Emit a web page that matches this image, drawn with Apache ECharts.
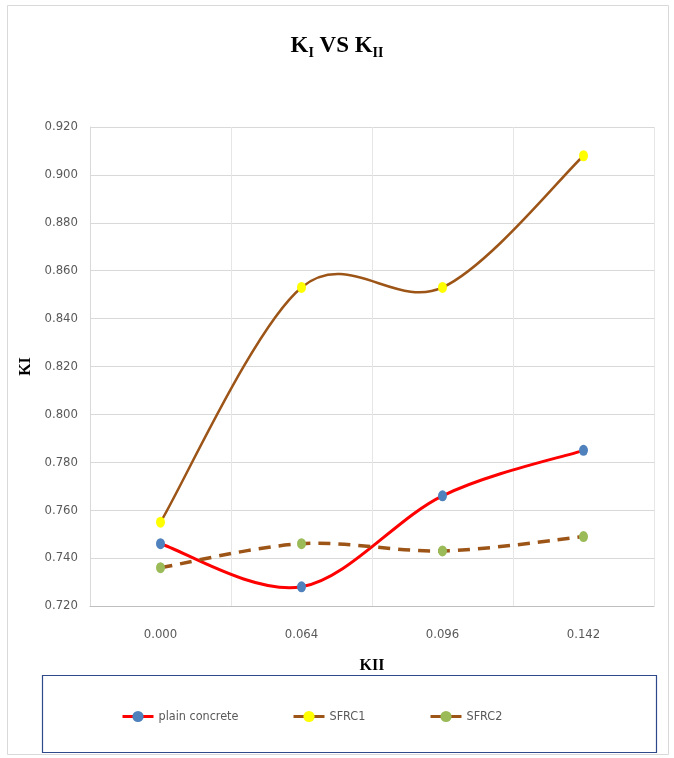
<!DOCTYPE html>
<html>
<head>
<meta charset="utf-8">
<script src="https://cdn.jsdelivr.net/npm/echarts@6/dist/echarts.min.js"></script>
<style>
  html, body { margin: 0; padding: 0; background: #ffffff; }
  #chart { width: 674px; height: 758px; }
</style>
</head>
<body>
<div id="chart"></div>
<script>
// KII categories and KI values for each mix
const kiiLabels = ['0.000', '0.064', '0.096', '0.142'];
const plainConcrete = [0.746, 0.728, 0.766, 0.785];
const sfrc1 = [0.755, 0.853, 0.853, 0.908];
const sfrc2 = [0.736, 0.746, 0.743, 0.749];
const yTicks = { min: 0.72, max: 0.92, step: 0.02 };

const chart = echarts.init(document.getElementById('chart'));
const axisFont = '"DejaVu Sans Condensed", "Liberation Sans Narrow", "Liberation Sans", sans-serif';
const serif = '"Liberation Serif", "DejaVu Serif", serif';
const brown = '#9c5417';

// Smoothed curve through the points (Catmull-Rom style Bezier in pixel space)
function smoothCurve(values, stroke, width, dash) {
  return {
    type: 'custom',
    silent: true,
    z: 2,
    data: values.map((v, i) => [i, v]),
    encode: { x: 0, y: 1 },
    renderItem(params, api) {
      if (params.dataIndex !== 0) return null;
      const p = values.map((v, i) => api.coord([i, v]));
      const n = p.length;
      let d = 'M' + p[0][0] + ' ' + p[0][1];
      for (let i = 0; i < n - 1; i++) {
        const p0 = p[Math.max(i - 1, 0)], p1 = p[i], p2 = p[i + 1], p3 = p[Math.min(i + 2, n - 1)];
        const c1 = [p1[0] + (p2[0] - p0[0]) / 6, p1[1] + (p2[1] - p0[1]) / 6];
        const c2 = [p2[0] - (p3[0] - p1[0]) / 6, p2[1] - (p3[1] - p1[1]) / 6];
        d += ' C' + c1[0] + ' ' + c1[1] + ' ' + c2[0] + ' ' + c2[1] + ' ' + p2[0] + ' ' + p2[1];
      }
      return {
        type: 'path',
        shape: { pathData: d },
        style: { fill: null, stroke: stroke, lineWidth: width, lineDash: dash || null, lineCap: 'butt' }
      };
    }
  };
}

function markers(name, values, color) {
  return {
    name: name, type: 'line', data: values, z: 3,
    symbol: 'circle', symbolSize: [9, 11], showSymbol: true,
    lineStyle: { opacity: 0 },
    itemStyle: { color: color }
  };
}

function legendAt(left, name, lineColor, lineWidth, dotColor) {
  return {
    left: left, top: 705,
    itemWidth: 31, itemHeight: 14, itemGap: 0,
    textStyle: { fontFamily: axisFont, fontSize: 12.5, color: '#595959' },
    data: [{
      name: name,
      lineStyle: { color: lineColor, width: lineWidth, opacity: 1, type: 'solid' },
      itemStyle: { color: dotColor }
    }]
  };
}

chart.setOption({
  animation: false,
  backgroundColor: '#ffffff',
  title: {
    text: '{k|K}{s|I}{k| VS K}{s|II}',
    left: 'center',
    top: 27,
    textStyle: {
      rich: {
        k: { fontFamily: serif, fontWeight: 'bold', fontSize: 23, color: '#000' },
        s: { fontFamily: serif, fontWeight: 'bold', fontSize: 14, color: '#000', verticalAlign: 'bottom', padding: [14, 0, 0, 0] }
      }
    }
  },
  graphic: [
    { type: 'rect', shape: { x: 7.5, y: 5.5, width: 661, height: 749 }, style: { fill: 'none', stroke: '#d9d9d9', lineWidth: 1 }, z: -1 },
    { type: 'rect', shape: { x: 42.5, y: 675.5, width: 614, height: 77 }, style: { fill: 'none', stroke: '#2f4a8a', lineWidth: 1.2 } }
  ],
  legend: [
    legendAt(116, 'plain concrete', '#ff0000', 3, '#4f81bd'),
    legendAt(287, 'SFRC1', brown, 3, '#ffff00'),
    legendAt(424, 'SFRC2', brown, 3, '#9bbb59')
  ],
  grid: { left: 90, right: 20, top: 127, bottom: 152 },
  xAxis: {
    type: 'category',
    data: kiiLabels,
    boundaryGap: true,
    name: 'KII',
    nameLocation: 'middle',
    nameGap: 52,
    nameTextStyle: { fontFamily: serif, fontWeight: 'bold', fontSize: 16, color: '#000' },
    axisLine: { lineStyle: { color: '#bfbfbf', width: 1 } },
    axisTick: { show: false },
    axisLabel: { fontFamily: axisFont, fontSize: 13, color: '#595959', margin: 22 },
    splitLine: { show: true, lineStyle: { color: '#e6e6e6', width: 1 } }
  },
  yAxis: {
    type: 'value',
    min: yTicks.min,
    max: yTicks.max,
    interval: yTicks.step,
    name: 'KI',
    nameLocation: 'middle',
    nameGap: 40,
    nameTextStyle: { fontFamily: serif, fontWeight: 'bold', fontSize: 16, color: '#000' },
    axisLine: { show: true, lineStyle: { color: '#d9d9d9' } },
    axisTick: { show: false },
    axisLabel: { fontFamily: axisFont, fontSize: 13, color: '#595959', margin: 12, formatter: v => v.toFixed(3) },
    splitLine: { lineStyle: { color: '#d9d9d9', width: 1 } }
  },
  series: [
    markers('plain concrete', plainConcrete, '#4f81bd'),
    markers('SFRC1', sfrc1, '#ffff00'),
    markers('SFRC2', sfrc2, '#9bbb59'),
    smoothCurve(plainConcrete, '#ff0000', 3),
    smoothCurve(sfrc1, brown, 2.5),
    smoothCurve(sfrc2, brown, 3.5, [12, 8])
  ]
});
</script>
</body>
</html>
